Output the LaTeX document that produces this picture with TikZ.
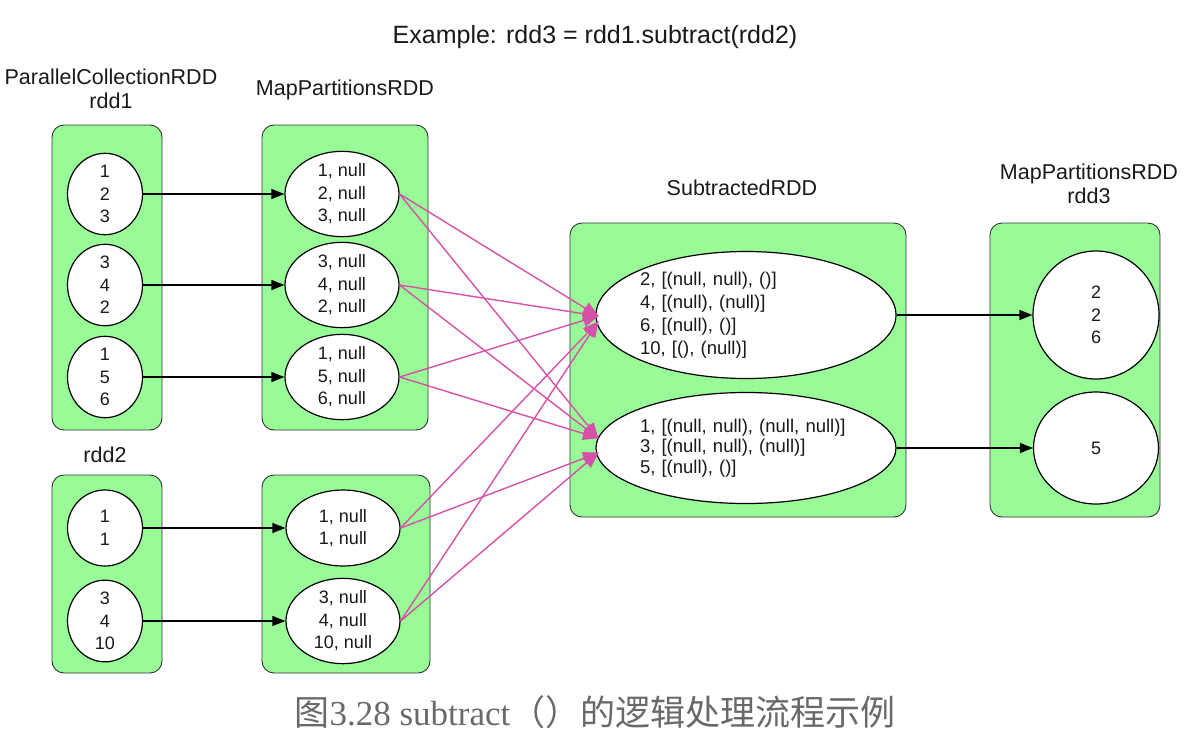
\documentclass[tikz,border=0pt]{standalone}
\usepackage{fontspec}
\setmainfont{Liberation Sans}
\newfontfamily\cjkfont{Noto Sans CJK SC}
\newfontfamily\serifcap{Liberation Serif}
\usetikzlibrary{shapes.geometric,arrows.meta}
\definecolor{boxgreen}{RGB}{152,251,152}
\definecolor{pinkedge}{RGB}{214,82,168}
\definecolor{capgray}{RGB}{105,105,105}
\definecolor{txt}{RGB}{25,25,25}
\tikzset{
  box/.style={draw=black!80, line width=0.9pt, fill=boxgreen, rounded corners=12pt, inner sep=0pt},
  part/.style={draw=black, line width=1.2pt, fill=white, ellipse, inner sep=0pt, align=center,
    text=txt, font=\fontsize{18}{22.5}\selectfont},
  lbl/.style={align=center, font=\fontsize{21.5}{24.5}\selectfont, inner sep=0pt, text=txt},
  blk/.style={draw=black, line width=1.2pt, -{Triangle[length=13pt,width=10pt]}},
  pk/.style={draw=pinkedge, line width=1.4pt, -{Triangle[length=16pt,width=13pt]}, shorten >=-1pt}
}
\begin{document}
\begin{tikzpicture}[x=1pt,y=-1pt]
\useasboundingbox (0,0) rectangle (1197,737);
% title
\node[inner sep=0pt, text=txt, font=\fontsize{25}{28}\selectfont] (title) at (595,37) {Example: rdd3 = rdd1.subtract(rdd2)};
% labels
\node[lbl] (l1) at (111,89) {ParallelCollectionRDD\\rdd1};
\node[lbl] (l2) at (345,90) {MapPartitionsRDD};
\node[lbl] (l3) at (105,455) {rdd2};
\node[lbl] (l4) at (742,188) {SubtractedRDD};
\node[lbl] (l5) at (1089,184) {MapPartitionsRDD\\rdd3};
% boxes
\node[box, minimum width=110pt, minimum height=305pt] (b1) at (107,277.5) {};
\node[box, minimum width=166pt, minimum height=305pt] (b2) at (345,277.5) {};
\node[box, minimum width=110pt, minimum height=198pt] (b3) at (107,574) {};
\node[box, minimum width=168pt, minimum height=198pt] (b4) at (346,574) {};
\node[box, minimum width=336pt, minimum height=294pt] (b5) at (738,370) {};
\node[box, minimum width=170pt, minimum height=294pt] (b6) at (1075,370) {};
% rdd1 partitions
\node[part, minimum width=75pt, minimum height=72pt] (a1) at (105,194) {1\\2\\3};
\node[part, minimum width=75pt, minimum height=72pt] (a2) at (105,285) {3\\4\\2};
\node[part, minimum width=75pt, minimum height=72pt] (a3) at (105,377) {1\\5\\6};
% map1 partitions
\node[part, minimum width=114pt, minimum height=70pt] (m1) at (342,194) {1, null\\2, null\\3, null};
\node[part, minimum width=114pt, minimum height=72pt] (m2) at (342,285) {3, null\\4, null\\2, null};
\node[part, minimum width=114pt, minimum height=72pt] (m3) at (342,377) {1, null\\5, null\\6, null};
% rdd2 partitions
\node[part, minimum width=75pt, minimum height=76pt] (c1) at (105,528) {1\\1};
\node[part, minimum width=75pt, minimum height=80pt] (c2) at (105,621) {3\\4\\10};
% map2 partitions
\node[part, minimum width=114pt, minimum height=76pt] (n1) at (343,528) {1, null\\1, null};
\node[part, minimum width=114pt, minimum height=80pt] (n2) at (343,621) {3, null\\4, null\\10, null};
% subtracted partitions
\node[part, minimum width=300pt, minimum height=127pt, align=left, text width=212pt,
  font=\fontsize{18.5}{23}\selectfont] (s1) at (746,315) {2, [(null, null), ()]\\4, [(null), (null)]\\6, [(null), ()]\\10, [(), (null)]};
\node[part, minimum width=300pt, minimum height=111pt, align=left, text width=212pt,
  font=\fontsize{18.5}{20.5}\selectfont] (s2) at (746,448) {1, [(null, null), (null, null)]\\3, [(null, null), (null)]\\5, [(null), ()]};
% rdd3 partitions
\node[part, minimum width=126pt, minimum height=128pt] (r1) at (1096,315) {2\\2\\6};
\node[part, minimum width=125pt, minimum height=112pt] (r2) at (1096,448) {5};
% black arrows
\draw[blk] (a1) -- (m1);
\draw[blk] (a2) -- (m2);
\draw[blk] (a3) -- (m3);
\draw[blk] (c1) -- (n1);
\draw[blk] (c2) -- (n2);
\draw[blk] (s1) -- (r1);
\draw[blk] (s2) -- (r2);
% pink edge end points
\coordinate (t1) at (598,316);
\coordinate (t2) at (598,322);
\coordinate (u1) at (598,438);
\coordinate (u2) at (598,453);
\draw[pk] (m1.east) -- (t1);
\draw[pk] (m1.east) -- (u1);
\draw[pk] (m2.east) -- (t1);
\draw[pk] (m2.east) -- (u1);
\draw[pk] (m3.east) -- (t1);
\draw[pk] (m3.east) -- (u1);
\draw[pk] (n1.east) -- (t2);
\draw[pk] (n1.east) -- (u2);
\draw[pk] (n2.east) -- (t2);
\draw[pk] (n2.east) -- (u2);
% caption
\node[inner sep=0pt, text=capgray, font=\fontsize{35}{40}\selectfont] (cap) at (595,712)
  {\cjkfont 图\serifcap 3.28 subtract\cjkfont （）的逻辑处理流程示例};
\end{tikzpicture}
\end{document}
